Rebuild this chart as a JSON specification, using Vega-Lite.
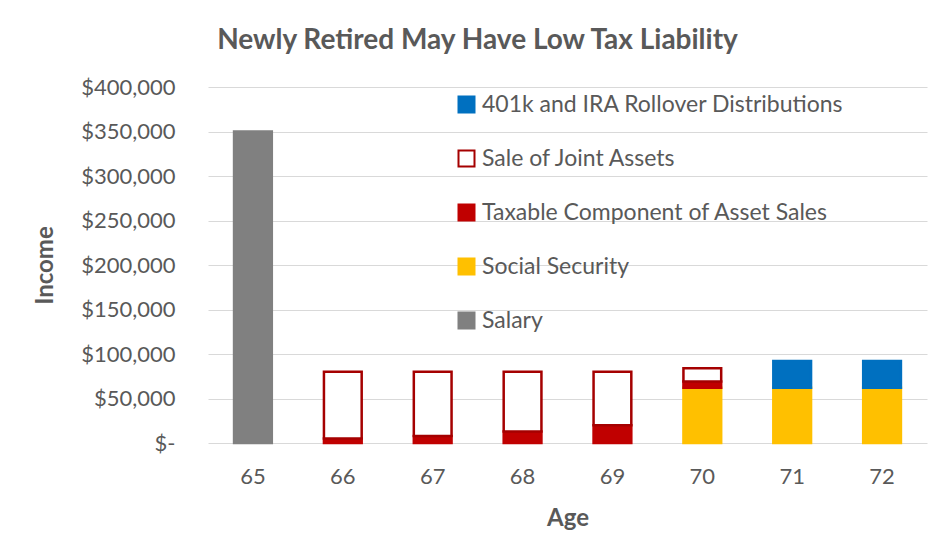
{
  "$schema": "https://vega.github.io/schema/vega-lite/v6.json",
  "width": 719,
  "height": 356,
  "autosize": {"type": "none"},
  "padding": {"left": 208, "top": 87, "right": 12, "bottom": 113},
  "background": "white",
  "config": {
    "font": "Lato",
    "view": {"stroke": null},
    "axis": {"labelColor": "#595959", "titleColor": "#595959", "gridColor": "#d9d9d9", "ticks": false}
  },
  "title": {
    "text": "Newly Retired May Have Low Tax Liability",
    "fontSize": 28,
    "fontWeight": "bold",
    "color": "#595959",
    "dx": -90,
    "offset": 21
  },
  "data": {
    "values": [
      {"age": "65", "series": "Salary", "value": 350000, "ord": 1},
      {"age": "66", "series": "Taxable Component of Asset Sales", "value": 5000, "ord": 3},
      {"age": "66", "series": "Sale of Joint Assets", "value": 75000, "ord": 4},
      {"age": "67", "series": "Taxable Component of Asset Sales", "value": 8000, "ord": 3},
      {"age": "67", "series": "Sale of Joint Assets", "value": 72000, "ord": 4},
      {"age": "68", "series": "Taxable Component of Asset Sales", "value": 13000, "ord": 3},
      {"age": "68", "series": "Sale of Joint Assets", "value": 67000, "ord": 4},
      {"age": "69", "series": "Taxable Component of Asset Sales", "value": 20000, "ord": 3},
      {"age": "69", "series": "Sale of Joint Assets", "value": 60000, "ord": 4},
      {"age": "70", "series": "Social Security", "value": 62000, "ord": 2},
      {"age": "70", "series": "Taxable Component of Asset Sales", "value": 7000, "ord": 3},
      {"age": "70", "series": "Sale of Joint Assets", "value": 15000, "ord": 4},
      {"age": "71", "series": "Social Security", "value": 62000, "ord": 2},
      {"age": "71", "series": "401k and IRA Rollover Distributions", "value": 30000, "ord": 5},
      {"age": "72", "series": "Social Security", "value": 62000, "ord": 2},
      {"age": "72", "series": "401k and IRA Rollover Distributions", "value": 30000, "ord": 5}
    ]
  },
  "mark": {"type": "bar", "strokeWidth": 2.5},
  "encoding": {
    "x": {
      "field": "age",
      "type": "ordinal",
      "title": "Age",
      "scale": {"paddingInner": 0.58, "paddingOuter": 0.29},
      "axis": {"labelAngle": 0, "labelFontSize": 22, "labelPadding": 23, "titleFontSize": 24, "titleFontWeight": "bold", "titlePadding": 19, "domain": false, "grid": false}
    },
    "y": {
      "field": "value",
      "type": "quantitative",
      "stack": "zero",
      "title": "Income",
      "scale": {"domain": [0, 400000]},
      "axis": {
        "values": [0, 50000, 100000, 150000, 200000, 250000, 300000, 350000, 400000],
        "labelExpr": "datum.value == 0 ? '$-' : format(datum.value, '$,')",
        "labelFontSize": 22,
        "labelPadding": 33,
        "titleFontSize": 24,
        "titleFontWeight": "bold",
        "titlePadding": 23,
        "domain": false
      }
    },
    "order": {"field": "ord", "type": "quantitative"},
    "fill": {
      "field": "series",
      "type": "nominal",
      "scale": {
        "domain": ["401k and IRA Rollover Distributions", "Sale of Joint Assets", "Taxable Component of Asset Sales", "Social Security", "Salary"],
        "range": ["#0070C0", "#ffffff", "#C00000", "#FFC000", "#808080"]
      },
      "legend": {
        "title": null,
        "orient": "none",
        "legendX": 247,
        "legendY": 6,
        "symbolType": "square",
        "symbolSize": 256,
        "symbolStrokeWidth": 2,
        "labelFontSize": 23,
        "labelColor": "#595959",
        "labelLimit": 600,
        "labelOffset": 4,
        "rowPadding": 29
      }
    },
    "stroke": {
      "field": "series",
      "type": "nominal",
      "scale": {
        "domain": ["401k and IRA Rollover Distributions", "Sale of Joint Assets", "Taxable Component of Asset Sales", "Social Security", "Salary"],
        "range": ["#0070C0", "#A50000", "#C00000", "#FFC000", "#808080"]
      },
      "legend": {
        "title": null,
        "orient": "none",
        "legendX": 247,
        "legendY": 6,
        "symbolType": "square",
        "symbolSize": 256,
        "symbolStrokeWidth": 2,
        "labelFontSize": 23,
        "labelColor": "#595959",
        "labelLimit": 600,
        "labelOffset": 4,
        "rowPadding": 29
      }
    }
  }
}
